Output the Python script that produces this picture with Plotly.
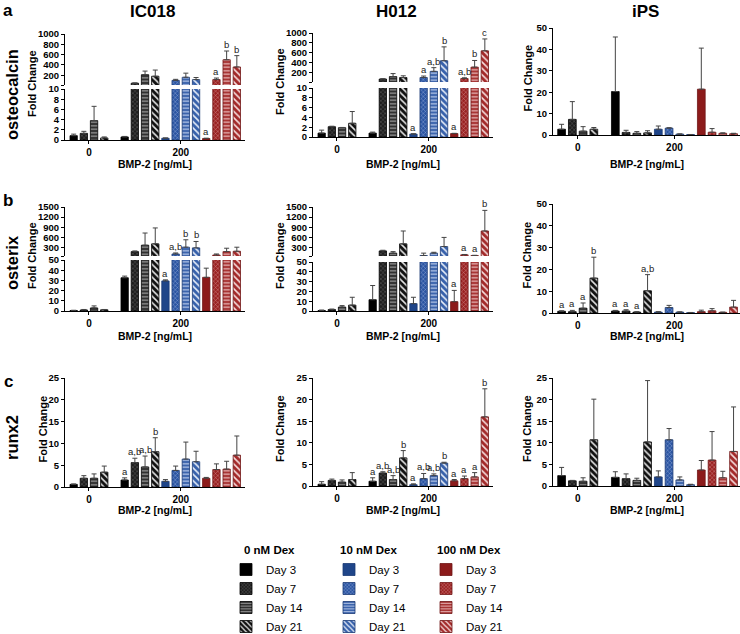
import plotly.graph_objects as go

FONT = "Liberation Sans, Arial, sans-serif"
W, H = 740, 634

cell_lines = ["IC018", "H012", "iPS"]
genes = ["osteocalcin", "osterix", "runx2"]
bmp2_doses = ["0", "200"]
dex_levels = ["0 nM Dex", "10 nM Dex", "100 nM Dex"]
days = ["Day 3", "Day 7", "Day 14", "Day 21"]

# 16 bars per panel:
# BMP-2 0   -> 0 nM Dex, Day 3/7/14/21
# BMP-2 200 -> 0 nM Dex, 10 nM Dex, 100 nM Dex, each Day 3/7/14/21
oc_ic018_mean = [0.85, 1.3, 3.8, 0.4, 0.6, 45, 210, 180, 0.35, 100, 160, 115, 0.3, 115, 500, 360]
oc_ic018_err = [0.3, 0.4, 2.8, 0.2, 0.1, 5, 70, 120, 0.05, 20, 80, 40, 0.05, 30, 170, 220]
oc_ic018_sig = ["", "", "", "", "", "", "", "", "", "", "", "", "a", "a", "b", "b"]

oc_h012_mean = [0.8, 2.1, 1.9, 2.8, 0.8, 70, 120, 100, 0.6, 100, 225, 440, 0.7, 80, 310, 640]
oc_h012_err = [0.6, 0.1, 0.05, 2.4, 0.2, 5, 60, 35, 0.05, 30, 75, 280, 0.05, 15, 135, 240]
oc_h012_sig = ["", "", "", "", "", "", "", "", "a", "a", "a,b", "b", "a", "a,b", "b", "c"]

oc_ips_mean = [2.7, 7.3, 1.8, 2.7, 20.3, 1.2, 0.8, 1.0, 2.7, 3.2, 0.4, 0.2, 21.4, 1.3, 0.8, 0.6]
oc_ips_err = [2.3, 8.3, 2.1, 0.8, 25.5, 1.0, 0.8, 1.0, 1.5, 0.2, 0.1, 0.05, 19.2, 1.7, 0.2, 0.2]
oc_ips_sig = [""] * 16

osx_ic018_mean = [0.5, 1.0, 3.0, 1.2, 32.6, 180, 370, 410, 29.5, 110, 310, 290, 33, 80, 180, 190]
osx_ic018_err = [0.2, 0.5, 2.0, 0.3, 1.6, 20, 360, 470, 1.0, 30, 220, 190, 9, 30, 100, 120]
osx_ic018_sig = ["", "", "", "", "", "", "", "", "a", "a,b", "b", "b", "", "", "", ""]

osx_h012_mean = [0.5, 1.5, 4.0, 6.0, 11.5, 200, 135, 410, 7.5, 65, 135, 330, 9.5, 85, 65, 790]
osx_h012_err = [0.5, 0.5, 1.5, 8.0, 14.5, 20, 45, 380, 6.5, 70, 25, 270, 11.5, 10, 5, 610]
osx_h012_sig = ["", "", "", "", "", "", "", "", "", "", "", "", "a", "a", "a", "b"]

osx_ips_mean = [0.8, 0.6, 2.2, 16.0, 0.9, 0.9, 0.4, 10.2, 0.4, 2.5, 0.4, 0.2, 0.6, 1.0, 0.3, 2.7]
osx_ips_err = [0.2, 0.6, 2.4, 9.6, 0.3, 0.6, 0.2, 7.4, 0.2, 1.0, 0.1, 0.05, 0.7, 1.0, 0.1, 3.1]
osx_ips_sig = ["a", "a", "a", "b", "a", "a", "a", "a,b", "", "", "", "", "", "", "", ""]

runx_ic018_mean = [0.6, 2.0, 2.0, 3.4, 1.6, 5.6, 4.6, 8.1, 1.3, 3.8, 6.4, 5.8, 2.0, 4.0, 4.1, 7.3]
runx_ic018_err = [0.1, 0.6, 1.0, 1.4, 0.5, 1.0, 2.5, 3.2, 0.4, 1.0, 3.9, 2.4, 0.2, 1.3, 1.8, 4.4]
runx_ic018_sig = ["", "", "", "", "a", "a,b", "a,b", "b", "", "", "", "", "", "", "", ""]

runx_h012_mean = [0.4, 1.3, 0.9, 1.5, 1.1, 3.0, 1.5, 6.5, 0.3, 1.7, 2.4, 5.3, 1.2, 1.7, 2.1, 16.0]
runx_h012_err = [0.6, 0.3, 0.5, 1.6, 0.8, 0.3, 0.9, 1.7, 0.2, 1.2, 0.4, 0.2, 0.3, 0.6, 1.0, 6.5]
runx_h012_sig = ["", "", "", "", "a", "a,b", "a,b", "b", "a", "a,b", "a,b", "b", "a", "a", "a", "b"]

runx_ips_mean = [2.4, 1.2, 1.1, 10.7, 2.0, 1.7, 1.3, 10.2, 2.1, 10.7, 1.4, 0.3, 3.7, 6.0, 1.9, 8.0]
runx_ips_err = [1.9, 0.1, 0.8, 9.4, 1.3, 1.1, 0.5, 14.2, 1.4, 2.6, 0.7, 0.1, 2.2, 6.6, 1.5, 10.3]
runx_ips_sig = [""] * 16

panel_values = {
    ("osteocalcin", "IC018"): (oc_ic018_mean, oc_ic018_err, oc_ic018_sig),
    ("osteocalcin", "H012"): (oc_h012_mean, oc_h012_err, oc_h012_sig),
    ("osteocalcin", "iPS"): (oc_ips_mean, oc_ips_err, oc_ips_sig),
    ("osterix", "IC018"): (osx_ic018_mean, osx_ic018_err, osx_ic018_sig),
    ("osterix", "H012"): (osx_h012_mean, osx_h012_err, osx_h012_sig),
    ("osterix", "iPS"): (osx_ips_mean, osx_ips_err, osx_ips_sig),
    ("runx2", "IC018"): (runx_ic018_mean, runx_ic018_err, runx_ic018_sig),
    ("runx2", "H012"): (runx_h012_mean, runx_h012_err, runx_h012_sig),
    ("runx2", "iPS"): (runx_ips_mean, runx_ips_err, runx_ips_sig),
}

# ---- styling ----
bar_fill = [["#000000", "#1e1e1e", "#303030", "#111111"],
            ["#1f4589", "#2b55a2", "#3c64ac", "#3761ab"],
            ["#8c1b1b", "#9a2222", "#a83535", "#a32a2a"]]
pattern_fg = [["", "#6a6a6a", "#9a9a9a", "#e6e6e6"],
              ["", "#9db2dd", "#b8c8e8", "#e8eef8"],
              ["", "#d99a9a", "#e8b8b8", "#f6dede"]]
outline = ["#000000", "#1a3a75", "#701515"]
day_shapes = ["", "x", "-", "\\"]
day_sizes = [0, 3, 3.5, 4.5]
day_solid = [0, 0.25, 0.35, 0.35]

def px2x(p):
    return p / W

def px2y(p):
    return 1 - p / H

# panel geometry in pixels
panel_cols = {"IC018": (65, 245, [-0.85, 16.8]),
              "H012": (313, 493, [-0.85, 16.8]),
              "iPS": (553, 740, [-0.8, 16.6])}
panel_rows = {
    ("osteocalcin", "IC018"): [(89, 140), (34, 85)],
    ("osteocalcin", "H012"): [(88, 137), (33, 82)],
    ("osteocalcin", "iPS"): [(28, 135)],
    ("osterix", "IC018"): [(260, 311), (207, 256)],
    ("osterix", "H012"): [(262, 311), (207, 256)],
    ("osterix", "iPS"): [(204, 313)],
    ("runx2", "IC018"): [(378, 487)],
    ("runx2", "H012"): [(378, 486)],
    ("runx2", "iPS"): [(378, 486)],
}
axis_specs = {
    "osteocalcin": {"broken": [([0, 10], [0, 2, 4, 6, 8, 10]),
                               ([10, 1000], [200, 400, 600, 800, 1000])],
                    "single": ([0, 50], [0, 10, 20, 30, 40, 50])},
    "osterix": {"broken": [([0, 50], [0, 10, 20, 30, 40, 50]),
                           ([50, 1500], [300, 600, 900, 1200, 1500])],
                "single": ([0, 50], [0, 10, 20, 30, 40, 50])},
    "runx2": {"single": ([0, 25], [0, 5, 10, 15, 20, 25])},
}
fold_x = {"IC018": 32, "H012": 280, "iPS": 527}
bmp_y = {"osteocalcin": 164, "osterix": 336, "runx2": 510}

slots = [0, 1, 2, 3] + [5 + i for i in range(12)]
dose_ticks = [1.5, 10.5]

fig = go.Figure()
layout = {}
annotations = []
n_x = 0
n_y = 0

for gi, gene in enumerate(genes):
    for ci, cell in enumerate(cell_lines):
        mean, err, sig = panel_values[(gene, cell)]
        n_x += 1
        xid = "x" if n_x == 1 else f"x{n_x}"
        x0, x1, xr = panel_cols[cell]
        spans = panel_rows[(gene, cell)]
        specs = axis_specs[gene]["broken"] if len(spans) == 2 else [axis_specs[gene]["single"]]

        yids = []
        for si, ((top, bottom), (rng, tv)) in enumerate(zip(spans, specs)):
            n_y += 1
            yid = "y" if n_y == 1 else f"y{n_y}"
            yids.append(yid)
            vals = list(tv)
            texts = [str(v) for v in tv]
            if si == 1:
                # unlabeled tick marking the bottom of the upper segment
                vals = [rng[0]] + vals
                texts = [""] + texts
            layout["yaxis" + ("" if n_y == 1 else str(n_y))] = dict(
                domain=[px2y(bottom), px2y(top)], range=rng, anchor=xid,
                tickvals=vals, ticktext=texts,
                showline=True, linecolor="black", linewidth=1,
                ticks="outside", ticklen=3, tickwidth=1, tickcolor="black",
                tickfont=dict(family=FONT, size=9.5, color="black", weight="bold"),
                showgrid=False, zeroline=False, automargin=False, fixedrange=True,
            )
        layout["xaxis" + ("" if n_x == 1 else str(n_x))] = dict(
            domain=[px2x(x0), px2x(x1)], range=xr, anchor=yids[0],
            tickvals=dose_ticks, ticktext=bmp2_doses,
            showline=True, linecolor="black", linewidth=1,
            ticks="outside", ticklen=3, tickwidth=1, tickcolor="black",
            tickfont=dict(family=FONT, size=10, color="black", weight="bold"),
            showgrid=False, zeroline=False, automargin=False, fixedrange=True,
        )

        for d in range(3):
            for k in range(4):
                idx = [k, 4 + k] if d == 0 else [4 + 4 * d + k]
                pattern = dict(shape="")
                if day_shapes[k]:
                    pattern = dict(shape=day_shapes[k], fgcolor=pattern_fg[d][k],
                                   bgcolor=bar_fill[d][k], size=day_sizes[k],
                                   solidity=day_solid[k], fillmode="replace")
                for si, (yid, (rng, tv)) in enumerate(zip(yids, specs)):
                    # on the upper part of a broken axis keep only bars that reach it
                    keep = [i for i in idx if si == 0 or mean[i] > rng[0]]
                    if not keep and not (gi == 0 and ci == 0 and si == 0):
                        continue
                    fig.add_trace(go.Bar(
                        x=[slots[i] for i in keep],
                        y=[mean[i] for i in keep],
                        width=0.72,
                        xaxis=xid, yaxis=yid,
                        name=days[k],
                        legend="legend" if d == 0 else f"legend{d + 1}",
                        showlegend=(gi == 0 and ci == 0 and si == 0),
                        marker=dict(color=bar_fill[d][k], pattern=pattern,
                                    line=dict(color=outline[d], width=0.8)),
                        error_y=dict(type="data", symmetric=False,
                                     array=[err[i] for i in keep],
                                     arrayminus=[0] * len(keep),
                                     color="#444444", thickness=1, width=2.5),
                        hoverinfo="skip",
                    ))

        # significance letters
        for i, s in enumerate(sig):
            if not s:
                continue
            top = mean[i] + err[i]
            yid = yids[1] if len(yids) == 2 and top > specs[1][0][0] else yids[0]
            annotations.append(dict(x=slots[i], y=top, xref=xid, yref=yid, text=s,
                                    showarrow=False, yanchor="bottom", yshift=-1,
                                    font=dict(family=FONT, size=9.5, color="#222222")))

        # Fold Change label and x-axis title
        top_px = min(t for t, b in spans)
        bot_px = max(b for t, b in spans)
        fx = fold_x[cell] + (10 if gene == "runx2" and cell == "IC018" else 0)
        annotations.append(dict(x=px2x(fx), y=px2y((top_px + bot_px) / 2 - 3),
                                xref="paper", yref="paper", text="Fold Change",
                                textangle=-90, showarrow=False,
                                xanchor="center", yanchor="middle",
                                font=dict(family=FONT, size=11, color="black", weight="bold")))
        annotations.append(dict(x=px2x((x0 + x1) / 2), y=px2y(bmp_y[gene]),
                                xref="paper", yref="paper", text="BMP-2 [ng/mL]",
                                showarrow=False, xanchor="center", yanchor="middle",
                                font=dict(family=FONT, size=10.5, color="black", weight="bold")))

# column titles, panel letters, gene names
for cell, cx in zip(cell_lines, [152, 397, 645]):
    annotations.append(dict(x=px2x(cx), y=px2y(11), xref="paper", yref="paper",
                            text=cell, showarrow=False, xanchor="center", yanchor="middle",
                            font=dict(family=FONT, size=17, color="black", weight="bold")))
for letter, ly in zip(["a", "b", "c"], [10, 200, 381]):
    annotations.append(dict(x=px2x(8), y=px2y(ly), xref="paper", yref="paper",
                            text=letter, showarrow=False, xanchor="center", yanchor="middle",
                            borderpad=0,
                            font=dict(family=FONT, size=17, color="black", weight="bold")))
for gene, gy in zip(genes, [95, 263, 438]):
    annotations.append(dict(x=px2x(12), y=px2y(gy), xref="paper", yref="paper",
                            text=gene, textangle=-90, showarrow=False,
                            xanchor="center", yanchor="middle",
                            font=dict(family=FONT, size=16.5, color="black", weight="bold")))

# legend headers
for dex, hx in zip(dex_levels, [269, 368, 469]):
    annotations.append(dict(x=px2x(hx), y=px2y(550), xref="paper", yref="paper",
                            text=dex, showarrow=False, xanchor="center", yanchor="middle",
                            font=dict(family=FONT, size=11.5, color="black", weight="bold")))

legend_style = dict(yanchor="top", xanchor="left", y=px2y(555),
                    bgcolor="rgba(0,0,0,0)", borderwidth=0,
                    font=dict(family=FONT, size=11.5, color="black"),
                    itemclick=False, itemdoubleclick=False)
layout["legend"] = dict(x=px2x(226), **legend_style)
layout["legend2"] = dict(x=px2x(329), **legend_style)
layout["legend3"] = dict(x=px2x(426), **legend_style)

fig.update_layout(
    width=W, height=H, autosize=False,
    # keep the legend from pushing the margins (which would squeeze all panels)
    margin=dict(l=0, r=0, t=0, b=0, autoexpand=False),
    paper_bgcolor="white", plot_bgcolor="white",
    barmode="overlay",
    annotations=annotations,
    **layout,
)

fig.write_html("out.html", config={"displayModeBar": False},
               post_script="document.body.style.margin='0';")
